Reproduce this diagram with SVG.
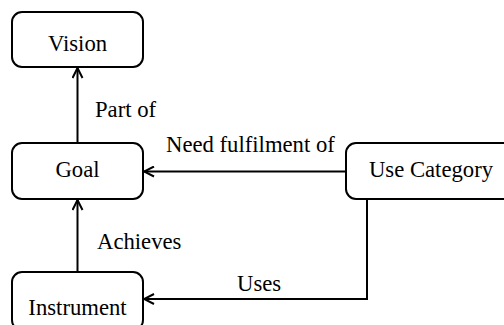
<svg xmlns="http://www.w3.org/2000/svg" width="504" height="325" viewBox="0 0 504 325">
<style>
.box{fill:#fff;stroke:#000;stroke-width:2}
text{font-family:'Liberation Serif','Times New Roman',Times,serif;font-size:22.7px;fill:#000}
.c{text-anchor:middle}
.ln{fill:none;stroke:#000;stroke-width:2}
</style>
<defs>
<marker id="ah" viewBox="0 0 12 12" refX="11" refY="6" markerWidth="12" markerHeight="12" markerUnits="userSpaceOnUse" orient="auto">
<path d="M1,1 L11,6 L1,11" fill="none" stroke="#000" stroke-width="2"/>
</marker>
</defs>
<rect width="504" height="325" fill="#fff"/>
<g id="connectors">
<line class="ln" x1="77.5" y1="143" x2="77.5" y2="68" marker-end="url(#ah)"/>
<line class="ln" x1="346" y1="171.5" x2="144" y2="171.5" marker-end="url(#ah)"/>
<line class="ln" x1="77.5" y1="272" x2="77.5" y2="200" marker-end="url(#ah)"/>
<polyline class="ln" points="367,199 367,299 144,299" marker-end="url(#ah)"/>
<text x="95" y="117">Part of</text>
<text x="166" y="152">Need fulfilment of</text>
<text x="97" y="249">Achieves</text>
<text x="237" y="291">Uses</text>
</g>
<g id="vision">
<rect class="box" x="12" y="12" width="131" height="55" rx="10"/>
<text class="c" x="77.5" y="51">Vision</text>
</g>
<g id="goal">
<rect class="box" x="12" y="143" width="131" height="56" rx="10"/>
<text class="c" x="77.5" y="177">Goal</text>
</g>
<g id="usecategory">
<rect class="box" x="346" y="143" width="172" height="56" rx="10"/>
<text class="c" x="431" y="177">Use Category</text>
</g>
<g id="instrument">
<rect class="box" x="12" y="272" width="131" height="58" rx="10"/>
<text class="c" x="77.5" y="315">Instrument</text>
</g>
</svg>
